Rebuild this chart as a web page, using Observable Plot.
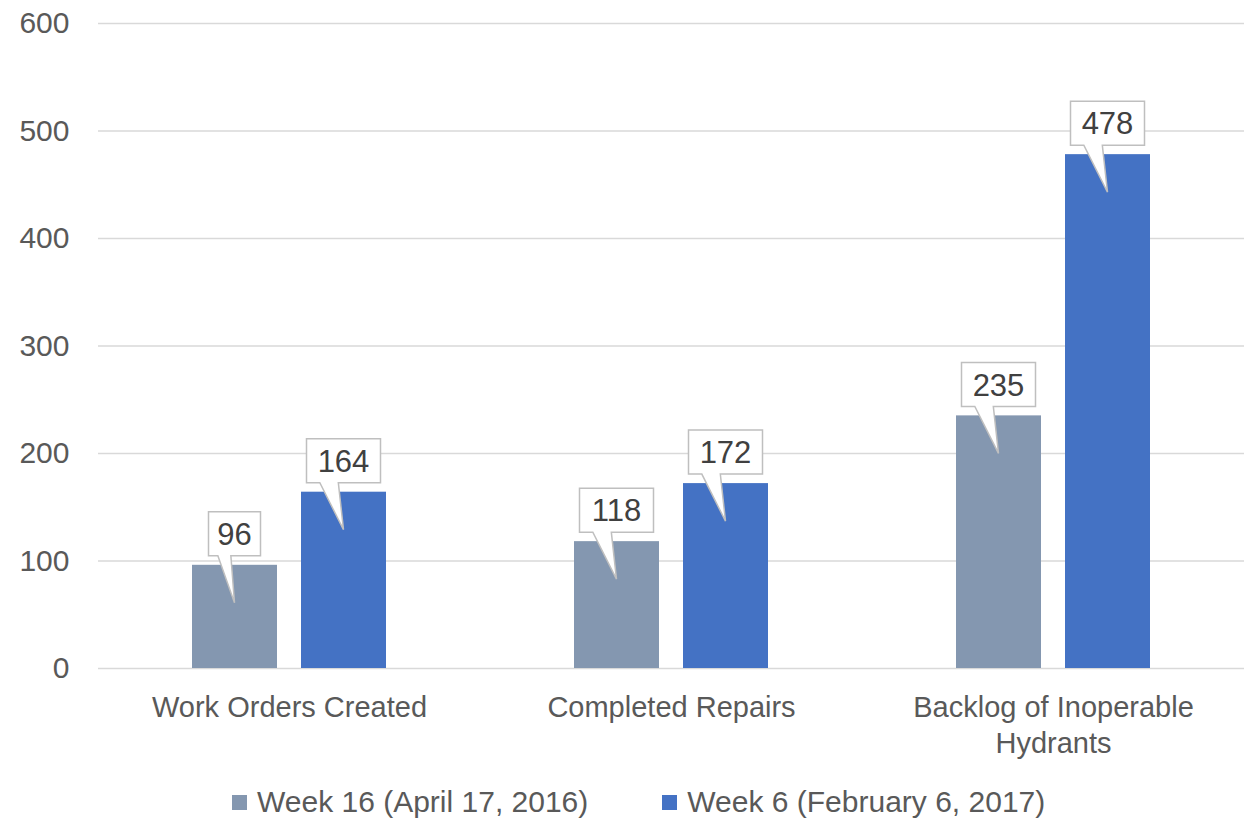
<!DOCTYPE html>
<html>
<head>
<meta charset="utf-8">
<script src="https://cdn.jsdelivr.net/npm/d3@7"></script>
<script src="https://cdn.jsdelivr.net/npm/@observablehq/plot@0.6"></script>
<style>
  html, body { margin: 0; padding: 0; background: #fff; width: 1250px; height: 822px; overflow: hidden; }
  #legend { display: flex; align-items: center; height: 44px; margin-top: 5px; padding-left: 232px; font-family: "Liberation Sans", Arial, sans-serif; font-size: 30px; color: #595959; }
  .item { display: flex; align-items: center; margin-right: 74px; }
  .sw { width: 15px; height: 15px; margin-right: 10px; }
</style>
</head>
<body>
<div id="chart"></div>
<div id="legend"></div>
<script>
const categories = ["Work Orders Created", "Completed Repairs", "Backlog of Inoperable Hydrants"];
const categoryLabels = ["Work Orders Created", "Completed Repairs", "Backlog of Inoperable\nHydrants"];
const seriesNames = ["Week 16 (April 17, 2016)", "Week 6 (February 6, 2017)"];
const seriesColors = ["#8497B0", "#4472C4"];
const week16 = [96, 118, 235];
const week6 = [164, 172, 478];
const yTicks = [0, 100, 200, 300, 400, 500, 600];

const data = [];
categories.forEach((c, i) => {
  data.push({category: c, series: seriesNames[0], value: week16[i]});
  data.push({category: c, series: seriesNames[1], value: week6[i]});
});

function calloutRender(index, scales, values) {
  const g = d3.create("svg:g");
  const bw = scales.x.bandwidth();
  for (const i of index) {
    const d = data[i];
    const cx = values.x[i] + bw / 2;
    const top = Math.min(values.y1[i], values.y2[i]);
    const txt = String(d.value);
    const w = 8 + txt.length * 22;
    const h = 44;
    const bBottom = top - 9;
    const bTop = bBottom - h;
    const l = cx - w / 2, r = cx + w / 2;
    const pl = cx - 0.32 * w, pr = cx - 0.07 * w;
    const tipY = top + 38;
    const path = `M${l},${bTop}H${r}V${bBottom}H${pr}L${cx},${tipY}L${pl},${bBottom}H${l}Z`;
    g.append("path").attr("d", path).attr("fill", "#fff").attr("stroke", "#BFBFBF").attr("stroke-width", 1.5);
    g.append("text").attr("x", cx).attr("y", bTop + h / 2).attr("text-anchor", "middle")
      .attr("dy", "0.36em").attr("font-size", 31).attr("fill", "#404040").text(txt);
  }
  return g.node();
}

const chart = Plot.plot({
  width: 1250,
  height: 775,
  marginTop: 23,
  marginBottom: 107,
  marginLeft: 97,
  marginRight: 5,
  style: {fontFamily: "Liberation Sans, Arial, sans-serif", fontSize: "29px", color: "#595959", background: "#fff"},
  fx: {domain: categories, padding: 0, label: null},
  x: {domain: seriesNames, paddingInner: 0.218, paddingOuter: 0.85, axis: null},
  y: {domain: [0, 600], label: null, axis: null},
  color: {domain: seriesNames, range: seriesColors},
  marks: [
    Plot.gridY(yTicks, {stroke: "#D9D9D9", strokeOpacity: 1, strokeWidth: 1.5}),
    Plot.axisY(yTicks, {tickSize: 0, tickPadding: 29, fontSize: 30, label: null}),
    Plot.axisFx({anchor: "bottom", tickSize: 0, tickPadding: 23, fontSize: 29, lineHeight: 1.24, label: null,
      tickFormat: (c) => categoryLabels[categories.indexOf(c)]}),
    Plot.barY(data, {fx: "category", x: "series", y: "value", fill: "series"}),
    Plot.barY(data, {fx: "category", x: "series", y: "value", render: calloutRender})
  ]
});
document.getElementById("chart").appendChild(chart);

const legend = document.getElementById("legend");
seriesNames.forEach((s, i) => {
  const it = document.createElement("div");
  it.className = "item";
  const sw = document.createElement("div");
  sw.className = "sw";
  sw.style.background = seriesColors[i];
  const t = document.createElement("span");
  t.textContent = s;
  it.appendChild(sw); it.appendChild(t);
  legend.appendChild(it);
});
</script>
</body>
</html>
